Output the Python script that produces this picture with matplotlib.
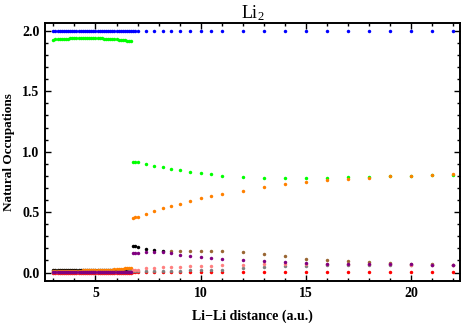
import numpy as np
import matplotlib.pyplot as plt
from matplotlib.ticker import MultipleLocator

# Li2 natural occupations vs. bond distance

# short-distance region (densely sampled)
x_dense = [3.0, 3.1, 3.2, 3.3, 3.4, 3.5, 3.6, 3.7, 3.8, 3.9,
           4.0, 4.1, 4.2, 4.3, 4.4, 4.5, 4.6, 4.7, 4.8, 4.9,
           5.0, 5.1, 5.2, 5.3, 5.4, 5.5, 5.6, 5.7, 5.8, 5.9,
           6.0, 6.1, 6.2, 6.3, 6.4, 6.5, 6.6, 6.7]

green_dense = [1.928, 1.930, 1.932, 1.933, 1.934, 1.935, 1.936, 1.937, 1.938, 1.939,
               1.939, 1.940, 1.940, 1.940, 1.941, 1.941, 1.941, 1.941, 1.941, 1.940,
               1.940, 1.939, 1.939, 1.938, 1.937, 1.936, 1.935, 1.934, 1.932, 1.931,
               1.929, 1.928, 1.926, 1.924, 1.922, 1.920, 1.918, 1.916]
orange_dense = [0.014, 0.014, 0.014, 0.014, 0.015, 0.015, 0.015, 0.015, 0.015, 0.016,
                0.016, 0.016, 0.016, 0.016, 0.017, 0.017, 0.017, 0.017, 0.018, 0.018,
                0.018, 0.019, 0.019, 0.020, 0.021, 0.022, 0.023, 0.024, 0.025, 0.027,
                0.028, 0.029, 0.031, 0.032, 0.034, 0.036, 0.038, 0.040]
black_dense = [0.018, 0.018, 0.018, 0.018, 0.018, 0.018, 0.018, 0.018, 0.018, 0.018,
               0.018, 0.018, 0.018, 0.018, 0.018, 0.018, 0.018, 0.018, 0.018, 0.018,
               0.018, 0.018, 0.018, 0.018, 0.018, 0.018, 0.018, 0.018, 0.018, 0.018,
               0.018, 0.018, 0.018, 0.018, 0.018, 0.018, 0.018, 0.018]
purple_dense = [0.008, 0.008, 0.008, 0.008, 0.008, 0.008, 0.008, 0.008, 0.008, 0.008,
                0.008, 0.008, 0.008, 0.008, 0.008, 0.008, 0.008, 0.008, 0.008, 0.008,
                0.008, 0.008, 0.008, 0.008, 0.008, 0.008, 0.008, 0.008, 0.008, 0.008,
                0.008, 0.008, 0.008, 0.008, 0.008, 0.008, 0.008, 0.008]
gray_dense = [0.005, 0.005, 0.005, 0.005, 0.005, 0.005, 0.005, 0.005, 0.005, 0.005,
              0.005, 0.005, 0.005, 0.005, 0.005, 0.005, 0.005, 0.005, 0.005, 0.005,
              0.005, 0.005, 0.005, 0.005, 0.005, 0.005, 0.005, 0.005, 0.005, 0.005,
              0.006, 0.006, 0.006, 0.007, 0.007, 0.008, 0.009, 0.010]
pink_dense = [0.002, 0.002, 0.002, 0.002, 0.002, 0.002, 0.002, 0.002, 0.002, 0.002,
              0.002, 0.002, 0.002, 0.002, 0.002, 0.002, 0.002, 0.002, 0.002, 0.002,
              0.002, 0.002, 0.002, 0.002, 0.002, 0.002, 0.002, 0.002, 0.002, 0.002,
              0.002, 0.002, 0.002, 0.002, 0.002, 0.002, 0.002, 0.002]
red_dense = [0.0, 0.0, 0.0, 0.0, 0.0, 0.0, 0.0, 0.0, 0.0, 0.0,
             0.0, 0.0, 0.0, 0.0, 0.0, 0.0, 0.0, 0.0, 0.0, 0.0,
             0.0, 0.0, 0.0, 0.0, 0.0, 0.0, 0.0, 0.0, 0.0, 0.0,
             0.0, 0.0, 0.0, 0.0, 0.0, 0.0, 0.0, 0.0]

# long-distance region (sparse)
x_sparse = [6.8, 6.9, 7.0, 7.4, 7.8, 8.2, 8.6, 9.0, 9.5, 10.0, 10.5, 11.0,
            12, 13, 14, 15, 16, 17, 18, 19, 20, 21, 22]

blue_sparse = [2.0] * len(x_sparse)
green_sparse = [0.917, 0.915, 0.912, 0.898, 0.884, 0.873, 0.857, 0.846, 0.835, 0.825, 0.815, 0.802,
                0.788, 0.782, 0.779, 0.779, 0.782, 0.788, 0.791, 0.799, 0.802, 0.806, 0.810]
orange_sparse = [0.449, 0.457, 0.463, 0.483, 0.507, 0.532, 0.551, 0.570, 0.593, 0.615, 0.631, 0.648,
                 0.678, 0.706, 0.730, 0.750, 0.764, 0.775, 0.782, 0.795, 0.800, 0.807, 0.815]
black_x = [6.8, 6.9, 7.0, 7.4, 7.8, 8.2]
black_sparse = [0.220, 0.218, 0.215, 0.195, 0.184, 0.176]
brown_x = [8.6, 9.0, 9.5, 10.0, 10.5, 11.0, 12, 13, 14, 15, 16, 17, 18, 19, 20, 21, 22]
brown_sparse = [0.179, 0.179, 0.179, 0.178, 0.177, 0.175, 0.170, 0.152, 0.133, 0.115, 0.100,
                0.093, 0.086, 0.075, 0.070, 0.067, 0.065]
purple_sparse = [0.160, 0.160, 0.160, 0.167, 0.172, 0.174, 0.162, 0.148, 0.137, 0.126, 0.118, 0.112,
                 0.104, 0.092, 0.084, 0.078, 0.072, 0.070, 0.070, 0.068, 0.067, 0.065, 0.064]
gray_sparse = [0.012, 0.012, 0.012, 0.012, 0.013, 0.014, 0.015, 0.016, 0.018, 0.020, 0.022, 0.025,
               0.036, 0.045, 0.055, 0.058, 0.062, 0.065, 0.066, 0.066, 0.066, 0.065, 0.064]
pink_sparse = [0.022, 0.022, 0.022, 0.036, 0.036, 0.045, 0.046, 0.050, 0.051, 0.055, 0.058, 0.063,
               0.064, 0.069, 0.069, 0.069, 0.068, 0.068, 0.068, 0.067, 0.066, 0.065, 0.064]
red_sparse = [0.002] * len(x_sparse)

# Mathematica-ish named colours
c_blue = (0, 0, 1)
c_green = (0, 1, 0)
c_orange = (1, 0.5, 0)
c_black = (0, 0, 0)
c_brown = (0.6, 0.4, 0.2)
c_purple = (0.5, 0, 0.5)
c_gray = (0.5, 0.5, 0.5)
c_pink = (1, 0.5, 0.5)
c_red = (1, 0, 0)

serif = ['Liberation Serif', 'DejaVu Serif']
plt.rcParams['mathtext.fontset'] = 'custom'
plt.rcParams['mathtext.rm'] = 'Liberation Serif'
plt.rcParams['mathtext.it'] = 'Liberation Serif:italic'

fig = plt.figure(figsize=(4.63, 3.23), dpi=100)
ax = fig.add_axes([0.097, 0.130, 0.896, 0.799])

ms = 2.5
def dots(x, y, c):
    ax.plot(x, y, linestyle='none', marker='o', ms=ms, mew=0, color=c)

dots(x_dense + x_sparse, [2.0] * len(x_dense) + blue_sparse, c_blue)
dots(x_dense, green_dense, c_green)
dots(x_sparse, green_sparse, c_green)
dots(x_dense, black_dense, c_black)
dots(black_x, black_sparse, c_black)
dots(x_dense, orange_dense, c_orange)
dots(x_sparse, orange_sparse, c_orange)
dots(brown_x, brown_sparse, c_brown)
dots(x_dense, red_dense, c_red)
dots(x_sparse, red_sparse, c_red)
dots(x_dense, gray_dense, c_gray)
dots(x_sparse, gray_sparse, c_gray)
dots(x_dense, pink_dense, c_pink)
dots(x_sparse, pink_sparse, c_pink)
dots(x_dense, purple_dense, c_purple)
dots(x_sparse, purple_sparse, c_purple)

ax.set_xlim(2.6, 22.3)
ax.set_ylim(-0.07, 2.066)
ax.xaxis.set_major_locator(MultipleLocator(5))
ax.xaxis.set_minor_locator(MultipleLocator(1))
ax.yaxis.set_major_locator(MultipleLocator(0.5))
ax.yaxis.set_minor_locator(MultipleLocator(0.1))
ax.tick_params(which='both', direction='in', top=True, right=True, width=1)
ax.tick_params(which='major', length=4, pad=4)
ax.tick_params(which='minor', length=2)
for s in ax.spines.values():
    s.set_linewidth(1.4)

for lab in ax.get_xticklabels() + ax.get_yticklabels():
    lab.set_family(serif)
    lab.set_fontweight('bold')
    lab.set_fontsize(10)

ax.set_xlabel('Li\u2212Li distance (a.u.)', family=serif, fontweight='bold', fontsize=10, labelpad=7)
ax.set_ylabel('Natural Occupations', family=serif, fontweight='bold', fontsize=9.5, labelpad=5)
ax.set_title('Li$_2$', family=serif, fontsize=13, pad=3)

fig.savefig('out.png', dpi=100)
